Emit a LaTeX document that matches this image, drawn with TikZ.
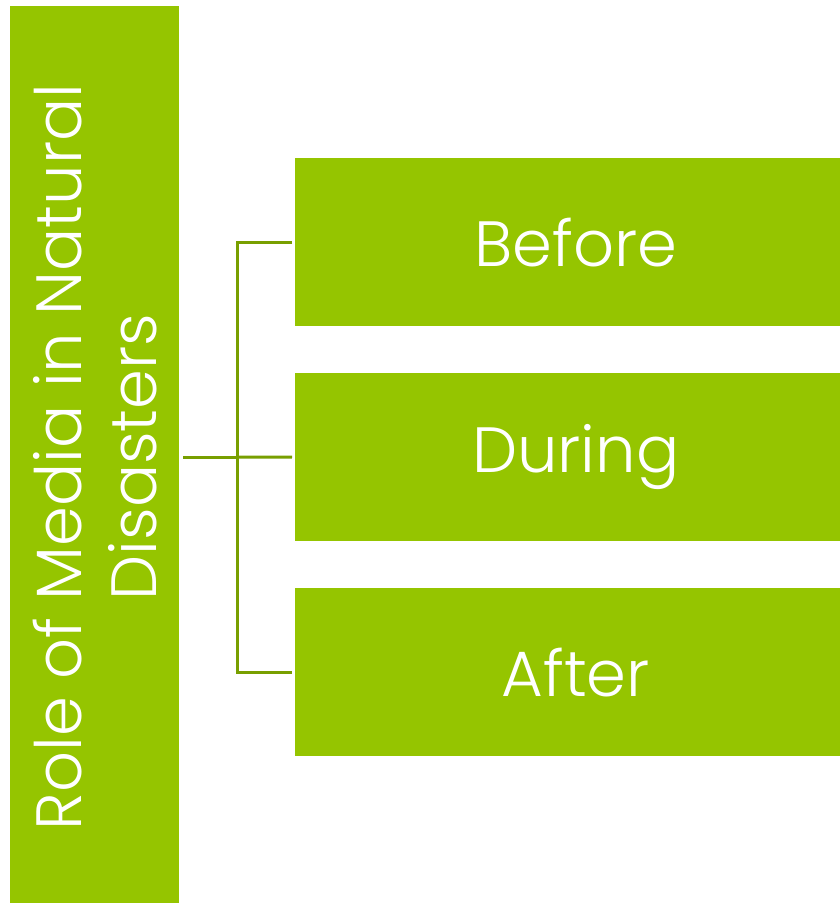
\documentclass[tikz,border=0pt]{standalone}
\usepackage{fontspec}
\setmainfont{Poppins Light}
\definecolor{boxgreen}{HTML}{95C500}
\definecolor{linegreen}{HTML}{789F00}
\begin{document}
\begin{tikzpicture}[x=1pt,y=-1pt,
  gbox/.style={fill=boxgreen,draw=none,inner sep=0pt,text=white},
  stagebox/.style={gbox,minimum width=545pt,minimum height=168pt,anchor=north west,font=\fontsize{64}{75}\selectfont},
  conn/.style={draw=linegreen,line width=3pt}]
\useasboundingbox[fill=white] (0,0) rectangle (840,903);
\node[gbox,minimum width=169pt,minimum height=897pt,anchor=north west] (bar) at (10,6) {};
\node[text=white,rotate=90,align=center,font=\fontsize{64}{75}\selectfont,inner sep=0pt] (title) at (95,457) {Role of Media in Natural\\Disasters};
\node[stagebox] (before) at (295,158) {\hspace*{16pt}Before};
\node[stagebox] (during) at (295,373) {\hspace*{16pt}During};
\node[stagebox] (after) at (295,588) {\hspace*{16pt}After};
\coordinate (jx) at (237,457);
\draw[conn] (bar.east |- jx) ++(4,0) -- (jx);
\draw[conn] (before.west) ++(-3,0) -| (jx) |- ([xshift=-3pt]after.west);
\draw[conn] (jx) -- ([xshift=-3pt]during.west);
\end{tikzpicture}
\end{document}
